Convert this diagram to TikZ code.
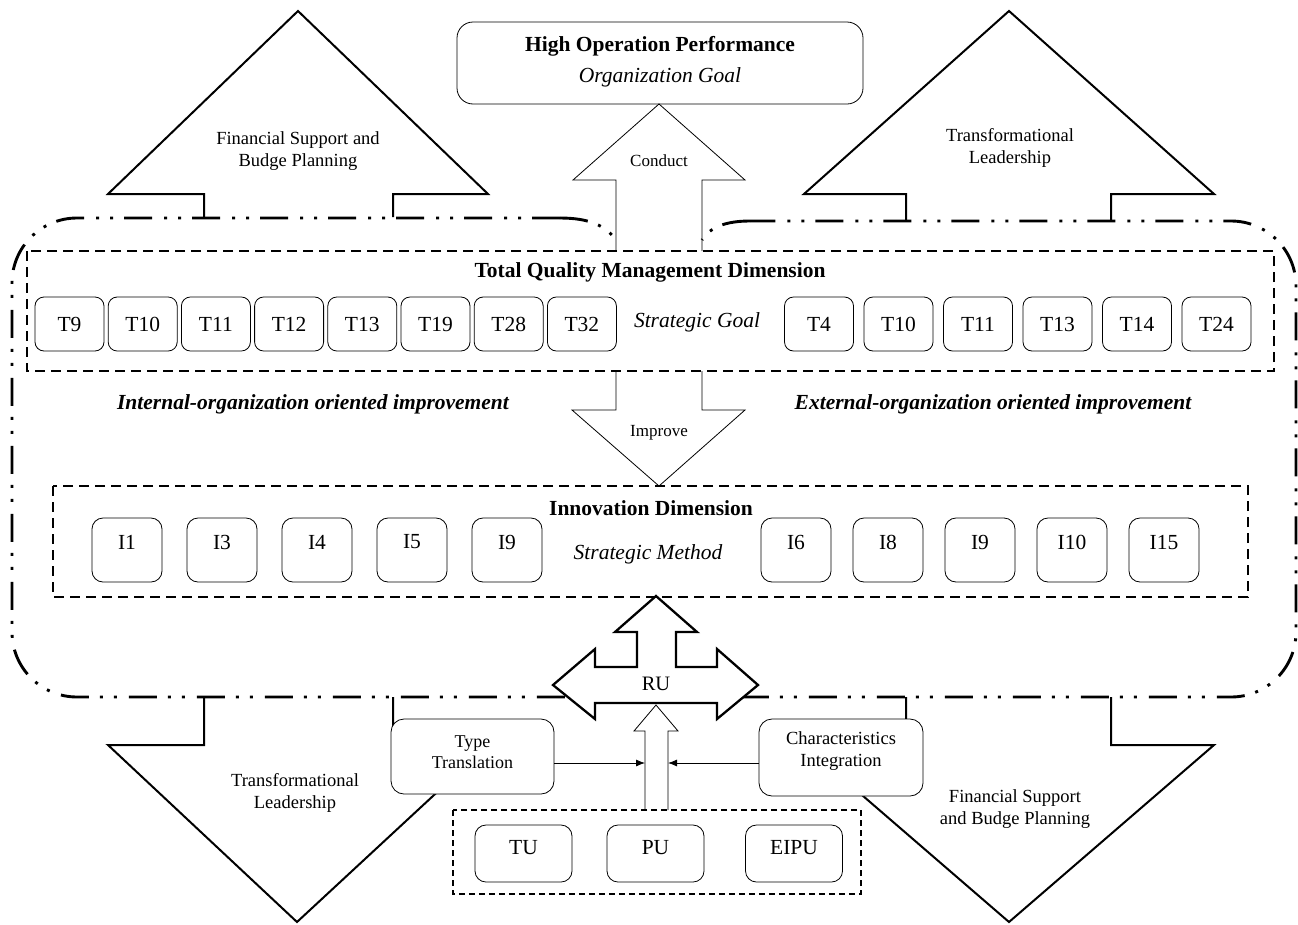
\documentclass[tikz,border=0pt]{standalone}
\usepackage{fontspec}
\setmainfont{Liberation Serif}
\usetikzlibrary{arrows.meta}
\newcommand\FSbig{\fontsize{21.5}{24}\selectfont}
\newcommand\FSmid{\fontsize{18.5}{22}\selectfont}
\newcommand\FSsmall{\fontsize{17}{20}\selectfont}
\tikzset{
  frameline/.style={line width=2.9pt, dash pattern=on 28pt off 11pt on 3pt off 11pt on 3pt off 12pt},
  dimbox/.style={line width=1.8pt, dash pattern=on 10pt off 6pt},
  unitbox/.style={line width=1.1pt, dash pattern=on 6pt off 4pt},
  bigarrow/.style={line width=2pt, line join=miter},
  thinarrow/.style={line width=0.8pt, line join=miter},
  tbox/.style={draw, line width=0.8pt, rounded corners=9pt, minimum width=69pt, minimum height=54pt, inner sep=0pt, font=\FSbig},
  ibox/.style={draw, line width=0.8pt, rounded corners=11pt, minimum width=70pt, minimum height=64pt, inner sep=0pt},
  ubox/.style={draw, line width=0.8pt, rounded corners=11pt, minimum width=97pt, minimum height=57pt, inner sep=0pt},
  sidebox/.style={draw, fill=white, line width=0.8pt, rounded corners=13pt, inner sep=0pt},
  lbl/.style={font=\FSbig, inner sep=0pt},
  trilbl/.style={font=\FSmid, align=center, inner sep=0pt},
  smalllbl/.style={font=\FSsmall, inner sep=0pt},
  conn/.style={line width=0.8pt, -{Latex[length=9pt,width=7pt]}},
}
\begin{document}
\begin{tikzpicture}[x=1pt,y=-1pt]
\useasboundingbox (0,0) rectangle (1298,924);

% outer dash-dot frame
\draw[frameline, rounded corners=65pt] (560,218) -- (12,218) -- (12,697) -- (1296,697) -- (1296,221) -- (750,221);
\draw[frameline] (560,218) .. controls (590,218) and (606,226) .. (616,240);
\draw[frameline] (750,221) .. controls (726,221) and (710,227) .. (702,240);

% top triangles
\draw[bigarrow] (204,217) -- (204,194) -- (108,194) -- (298,11) -- (488,194) -- (393,194) -- (393,217);
\draw[bigarrow] (906,220) -- (906,194) -- (804,194) -- (1009,11) -- (1214,194) -- (1111,194) -- (1111,220);
\node[trilbl] (tlt) at (298,151) {Financial Support and\\Budge Planning};
\node[trilbl] (trt) at (1010,148) {Transformational\\Leadership};

% bottom triangles
\draw[bigarrow] (204,697) -- (204,745) -- (108,745) -- (297,922) -- (488,745) -- (393,745) -- (393,697);
\draw[bigarrow] (906,697) -- (906,745) -- (804,745) -- (1009,922) -- (1214,745) -- (1111,745) -- (1111,697);
\node[trilbl] (blt) at (295,793) {Transformational\\Leadership};
\node[trilbl] (brt) at (1015,809) {Financial Support\\and Budge Planning};

% organization goal
\node[draw, line width=0.8pt, rounded corners=16pt, minimum width=406pt, minimum height=82pt, inner sep=0pt] (goal) at (660,63) {};
\node[lbl, font=\FSbig\bfseries] (goalt) at (660,46) {High Operation Performance};
\node[lbl, font=\FSbig\itshape] (goals) at (660,77) {Organization Goal};

% conduct arrow
\draw[thinarrow] (616,251) -- (616,180) -- (573,180) -- (659,104) -- (745,180) -- (702,180) -- (702,251);
\node[smalllbl] (conduct) at (659,161) {Conduct};

% TQM dimension
\draw[dimbox] (27,251) rectangle (1274,371);
\node[lbl, font=\FSbig\bfseries] (tqm) at (650,272) {Total Quality Management Dimension};
\foreach \lab [count=\i from 0] in {T9,T10,T11,T12,T13,T19,T28,T32}
  \node[tbox] (tl\i) at ({69.5+\i*73.2},324) {\lab};
\foreach \lab [count=\i from 0] in {T4,T10,T11,T13,T14,T24}
  \node[tbox] (tr\i) at ({819+\i*79.5},324) {\lab};
\node[lbl, font=\FSbig\itshape] (sgoal) at (697,322) {Strategic Goal};

% improve arrow
\draw[thinarrow] (616,371) -- (616,410) -- (572,410) -- (659,486) -- (745,410) -- (702,410) -- (702,371);
\node[smalllbl] (improve) at (659,433) {Improve};

\node[lbl, font=\FSbig\bfseries\itshape] (internal) at (313,404) {Internal-organization oriented improvement};
\node[lbl, font=\FSbig\bfseries\itshape] (external) at (993,404) {External-organization oriented improvement};

% innovation dimension
\draw[dimbox] (53,486) rectangle (1248,597);
\node[lbl, font=\FSbig\bfseries] (innov) at (651,508) {Innovation Dimension};
\node[lbl, font=\FSbig\itshape] (smethod) at (648,554) {Strategic Method};
\foreach \lab [count=\i from 0] in {I1,I3,I4,I5,I9} {
  \node[ibox] (il\i) at ({127+\i*95},550) {};
  \node[lbl] (ilt\i) at ({127+\i*95},542) {\lab};
}
\foreach \lab [count=\i from 0] in {I6,I8,I9,I10,I15} {
  \node[ibox] (ir\i) at ({796+\i*92},550) {};
  \node[lbl] (irt\i) at ({796+\i*92},542) {\lab};
}

% RU cross arrow
\draw[bigarrow, line width=2.3pt, fill=white] (656,596) -- (697,632) -- (676,632) -- (676,667) -- (717,667) -- (717,649) -- (758,685) -- (717,719) -- (717,703) -- (595,703) -- (595,719) -- (553,685) -- (595,649) -- (595,667) -- (637,667) -- (637,632) -- (615,632) -- cycle;
\node[lbl, font=\fontsize{20.5}{23}\selectfont] (ru) at (656,684) {RU};

% small up arrow
\draw[thinarrow, fill=white] (645,810) -- (645,731) -- (634,731) -- (656,705) -- (678,731) -- (668,731) -- (668,810);
\coordinate (saL) at (645,763);
\coordinate (saR) at (668,763);

% side boxes
\node[sidebox, minimum width=163pt, minimum height=75pt] (tt) at (472.5,756.5) {};
\node[trilbl, font=\fontsize{18}{21}\selectfont] (ttt) at (472.5,752) {Type\\Translation};
\node[sidebox, minimum width=164pt, minimum height=77pt] (ci) at (841,757.5) {};
\node[trilbl] (cit) at (841,751) {Characteristics\\Integration};
\draw[conn] (tt.east |- saL) -- (saL);
\draw[conn] (ci.west |- saR) -- (saR);

% units
\draw[unitbox] (453,810) rectangle (861,894);
\node[ubox] (tu) at (523.5,853.5) {};
\node[lbl] (tut) at (523.5,848) {TU};
\node[ubox] (pu) at (655.5,853.5) {};
\node[lbl] (put) at (655.5,848) {PU};
\node[ubox] (eipu) at (794,853.5) {};
\node[lbl] (eiput) at (794,848) {EIPU};
\end{tikzpicture}
\end{document}
